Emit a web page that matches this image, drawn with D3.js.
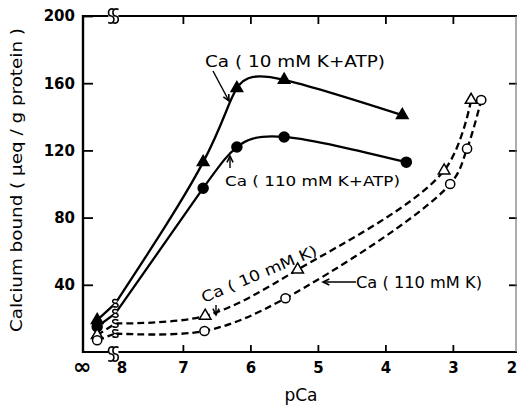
<!DOCTYPE html>
<html><head><meta charset="utf-8">
<script src="https://cdn.jsdelivr.net/npm/d3@7"></script>
<style>
body{margin:0;background:#fff}
text{font-family:"DejaVu Sans",sans-serif;fill:#000}
</style>
</head><body>
<svg id="c" width="519" height="411"></svg>
<script>
// ---------- data ----------
const xTickValues = [8, 7, 6, 5, 4, 3, 2];
const xTickLabels = ["8", "7", "6", "5", "4", "3", "2"];
const yTickValues = [40, 80, 120, 160, 200];
const infLabel = "∞";
const INF_POS = 8.27;      // where the pCa = ∞ points sit (left of the axis break)

// Ca (10 mM K + ATP) : filled triangles
const pCa_tri_KATP = [6.7, 6.2, 5.5, 3.75];
const ca_tri_KATP  = [113, 157, 162, 141];
const inf_tri_KATP = 19;
const brk_tri_KATP = 29;   // curve value at pCa 8 break

// Ca (110 mM K + ATP) : filled circles
const pCa_cir_KATP = [6.7, 6.2, 5.5, 3.69];
const ca_cir_KATP  = [97.5, 122, 128, 113];
const inf_cir_KATP = 15;
const brk_cir_KATP = 23;

// Ca (10 mM K) : open triangles
const pCa_tri_K = [6.67, 5.3, 3.13, 2.73];
const ca_tri_K  = [21.5, 49, 108, 150];
const inf_tri_K = 10;
const brk_tri_K = 17;

// Ca (110 mM K) : open circles
const pCa_cir_K = [6.68, 5.48, 3.04, 2.79, 2.58];
const ca_cir_K  = [12.5, 32, 100, 121, 150];
const inf_cir_K = 7;
const brk_cir_K = 11;

const labels = ["Ca ( 10 mM K+ATP)", "Ca ( 110 mM K+ATP)", "Ca ( 10 mM K)", "Ca ( 110 mM K)"];

// ---------- chart ----------
const svg = d3.select("#c");
const x = d3.scaleLinear().domain([8.48, 2.05]).range([83, 517]);
const y = d3.scaleLinear().domain([0, 200]).range([352, 16]);
const X0 = x.range()[0], X1 = x.range()[1], Y0 = y.range()[0], Y1 = y.range()[1];

// axes (ticks inward)
const gB = svg.append("g").attr("transform", `translate(0,${Y0})`)
  .call(d3.axisBottom(x).tickValues(xTickValues).tickSize(-7).tickPadding(10)
        .tickFormat((d, i) => xTickLabels[i]));
const gL = svg.append("g").attr("transform", `translate(${X0},0)`)
  .call(d3.axisLeft(y).tickValues(yTickValues).tickSize(-10).tickPadding(8));
const gT = svg.append("g").attr("transform", `translate(0,${Y1})`)
  .call(d3.axisTop(x).tickValues([7, 6, 5, 4, 3]).tickSize(-8).tickFormat(""));
const gR = svg.append("g").attr("transform", `translate(${X1},0)`)
  .call(d3.axisRight(y).tickValues([40, 80, 120, 160]).tickSize(-8).tickFormat(""));
[gB, gL, gT, gR].forEach(g => {
  g.select(".domain").remove();
  g.selectAll(".tick line").attr("stroke", "#000").attr("stroke-width", 1.8);
  g.selectAll("text").style("font-family", "DejaVu Sans").style("font-weight", "bold")
    .style("font-size", "15px").attr("fill", "#000");
});
gB.selectAll(".tick").filter(d => d === 8 || d === 2).select("line").remove();
gB.selectAll(".tick").filter(d => d === 8).select("text").attr("dx", 6);
gB.selectAll(".tick").filter(d => d === 2).select("text").attr("dx", -9);

// frame
const frame = svg.append("g").attr("stroke", "#000").attr("fill", "none");
frame.append("line").attr("x1", X0).attr("x2", X0).attr("y1", Y1 - 1).attr("y2", Y0 + 1).attr("stroke-width", 2.4);
frame.append("line").attr("x1", X0).attr("x2", X1).attr("y1", Y1).attr("y2", Y1).attr("stroke-width", 1.8);
frame.append("line").attr("x1", X0).attr("x2", X1).attr("y1", Y0).attr("y2", Y0).attr("stroke-width", 2);
frame.append("line").attr("x1", X1 - 1).attr("x2", X1 - 1).attr("y1", Y1).attr("y2", Y0).attr("stroke-width", 1.2).attr("stroke", "#777");

// ∞ label
svg.append("text").attr("x", x(INF_POS) - 15).attr("y", Y0 + 22).attr("text-anchor", "middle")
  .style("font-size", "22px").style("font-weight", "bold").text(infLabel);

// S-shaped break mark
function sPath(cx, cy, w, h) {
  return `M${cx + w / 2},${cy - h / 2 + 1} C${cx - w / 2 - 1},${cy - h / 2 - 2} ${cx - w / 2 - 1},${cy} ${cx},${cy}` +
         ` C${cx + w / 2 + 1},${cy} ${cx + w / 2 + 1},${cy + h / 2 + 2} ${cx - w / 2},${cy + h / 2 - 1}`;
}
const bx = x(8) - 2;
[Y1, Y0].forEach(yy => {
  svg.append("rect").attr("x", bx - 5).attr("y", yy - 3).attr("width", 10).attr("height", 6).attr("fill", "#fff");
  [-2.2, 2.2].forEach(o => svg.append("path").attr("d", sPath(bx + o, yy + (yy === Y0 ? 2 : 0), 6, 15))
    .attr("fill", "none").attr("stroke", "#000").attr("stroke-width", 1.6));
});

// series
const series = [
  {p: pCa_tri_KATP, v: ca_tri_KATP, inf: inf_tri_KATP, brk: brk_tri_KATP, m: "tri", filled: true, dash: false},
  {p: pCa_cir_KATP, v: ca_cir_KATP, inf: inf_cir_KATP, brk: brk_cir_KATP, m: "cir", filled: true, dash: false},
  {p: pCa_tri_K, v: ca_tri_K, inf: inf_tri_K, brk: brk_tri_K, m: "tri", filled: false, dash: true},
  {p: pCa_cir_K, v: ca_cir_K, inf: inf_cir_K, brk: brk_cir_K, m: "cir", filled: false, dash: true}
];
const lineSolid = d3.line().x(d => x(d[0])).y(d => y(d[1])).curve(d3.curveNatural);
const lineDash = d3.line().x(d => x(d[0])).y(d => y(d[1])).curve(d3.curveCatmullRom.alpha(0.5));
const straight = d3.line().x(d => x(d[0])).y(d => y(d[1]));

series.forEach(s => {
  const pts = [[8, s.brk]].concat(s.p.map((p, i) => [p, s.v[i]]));
  const attrs = sel => sel.attr("fill", "none").attr("stroke", "#000").attr("stroke-width", 2.3)
    .attr("stroke-dasharray", s.dash ? "7,4" : null);
  svg.append("path").datum(pts).attr("d", s.dash ? lineDash : lineSolid).call(attrs);
  svg.append("path").datum([[INF_POS, s.inf], [8, s.brk]]).attr("d", straight).call(attrs);
  // break mark on the curve
  svg.append("path").attr("d", sPath(x(8), y(s.brk), 6, 8))
    .attr("fill", "#fff").attr("stroke", "#000").attr("stroke-width", 1.5);
});

const triSym = d3.symbol().type(d3.symbolTriangle).size(58);
series.forEach(s => {
  const pts = [[INF_POS, s.inf]].concat(s.p.map((p, i) => [p, s.v[i]]));
  const g = svg.append("g");
  pts.forEach(d => {
    if (s.m === "tri") {
      g.append("path").attr("d", triSym).attr("transform", `translate(${x(d[0])},${y(d[1])})`)
        .attr("fill", s.filled ? "#000" : "#fff").attr("stroke", "#000").attr("stroke-width", 1.5);
    } else {
      g.append("circle").attr("cx", x(d[0])).attr("cy", y(d[1])).attr("r", s.filled ? 5 : 4.6)
        .attr("fill", s.filled ? "#000" : "#fff").attr("stroke", "#000").attr("stroke-width", 1.5);
    }
  });
});

// annotations
function arrow(x1, y1, x2, y2) {
  const a = Math.atan2(y2 - y1, x2 - x1), L = 7, sp = 0.45;
  svg.append("line").attr("x1", x1).attr("y1", y1).attr("x2", x2).attr("y2", y2)
    .attr("stroke", "#000").attr("stroke-width", 1.4);
  svg.append("path").attr("d",
    `M${x2 - L * Math.cos(a - sp)},${y2 - L * Math.sin(a - sp)} L${x2},${y2} L${x2 - L * Math.cos(a + sp)},${y2 - L * Math.sin(a + sp)}`)
    .attr("fill", "none").attr("stroke", "#000").attr("stroke-width", 1.6);
}
const lab = (t, x0, y0, len, fs, rot) => {
  const el = svg.append("text").attr("x", x0).attr("y", y0).style("font-size", fs + "px")
    .attr("textLength", len).attr("lengthAdjust", "spacingAndGlyphs").text(t);
  if (rot) el.attr("transform", `rotate(${rot},${x0},${y0})`);
};
lab(labels[0], 205, 67, 180, 15);
arrow(213, 71, 229, 101);
lab(labels[1], 225, 186, 175, 14);
arrow(230, 168, 230, 156);
lab(labels[2], 204, 303, 124, 15, -23);
arrow(216, 305, 216, 315);
lab(labels[3], 356, 288, 126, 15);
arrow(356, 282, 323, 282);

// axis titles
svg.append("text").attr("x", 301).attr("y", 401).attr("text-anchor", "middle")
  .style("font-size", "17px").text("pCa");
svg.append("text").attr("transform", "translate(22,180) rotate(-90)").attr("text-anchor", "middle")
  .style("font-size", "15px").attr("textLength", 304).attr("lengthAdjust", "spacingAndGlyphs")
  .text("Calcium bound ( μeq / g protein )");
</script>
</body></html>
